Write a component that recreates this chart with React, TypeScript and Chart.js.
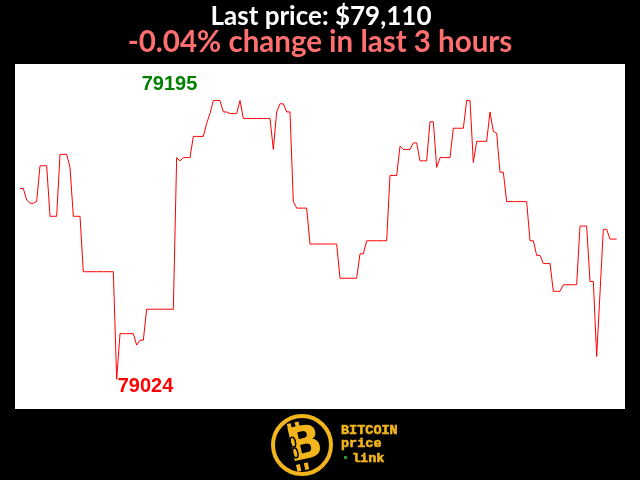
import { useEffect, useRef } from "react";
import { Chart, registerables } from "chart.js";

Chart.register(...registerables);

// One price per minute over the last 3 hours (USD)
const prices: number[] = [
  79141, 79141, 79134, 79132, 79132, 79133, 79155, 79155, 79155, 79124,
  79124, 79124, 79162, 79162, 79162, 79154, 79124, 79124, 79124, 79090,
  79090, 79090, 79090, 79090, 79090, 79090, 79090, 79090, 79090, 79024,
  79052, 79052, 79052, 79052, 79052, 79045, 79048, 79048, 79067, 79067,
  79067, 79067, 79067, 79067, 79067, 79067, 79067, 79160, 79158, 79160,
  79160, 79160, 79173, 79173, 79173, 79173, 79181, 79187, 79195, 79195,
  79195, 79188, 79188, 79187, 79187, 79187, 79195, 79184, 79184, 79184,
  79184, 79184, 79184, 79184, 79184, 79184, 79165, 79188, 79193, 79193,
  79188, 79188, 79133, 79129, 79129, 79129, 79129, 79107, 79107, 79107,
  79107, 79107, 79107, 79107, 79107, 79107, 79086, 79086, 79086, 79086,
  79086, 79086, 79101, 79101, 79109, 79109, 79109, 79109, 79109, 79109,
  79109, 79149, 79149, 79149, 79167, 79165, 79165, 79165, 79169, 79169,
  79158, 79158, 79158, 79182, 79182, 79154, 79160, 79160, 79160, 79160,
  79178, 79178, 79178, 79178, 79195, 79195, 79157, 79170, 79170, 79170,
  79170, 79188, 79176, 79175, 79151, 79151, 79133, 79133, 79133, 79133,
  79133, 79133, 79133, 79109, 79109, 79100, 79100, 79095, 79095, 79095,
  79078, 79078, 79078, 79082, 79082, 79082, 79082, 79082, 79118, 79118,
  79118, 79084, 79084, 79038, 79077, 79116, 79116, 79110, 79110, 79110,
];

const titleText = "Last price: $79,110";
const subtitleText = "-0.04% change in last 3 hours";
const logoLines = ["BITCOIN", "price", "link"];

const GOLD = "#f2b51c";

export default function App() {
  const ref = useRef<HTMLCanvasElement>(null);

  useEffect(() => {
    document.body.style.margin = "0";
    document.body.style.background = "#000";
    const canvas = ref.current;
    if (!canvas) return;

    const points = prices.map((v, i) => ({ x: i, y: v }));
    const maxV = Math.max(...prices);
    const minV = Math.min(...prices);
    const maxI = prices.indexOf(maxV);
    const minI = prices.indexOf(minV);

    const deco = {
      id: "deco",
      beforeDraw(chart: any) {
        const { ctx, chartArea: a } = chart;
        ctx.save();
        ctx.fillStyle = "#000";
        ctx.fillRect(0, 0, chart.width, chart.height);
        ctx.fillStyle = "#fff";
        ctx.fillRect(a.left, a.top, a.right - a.left, a.bottom - a.top);
        ctx.restore();
      },
      afterDraw(chart: any) {
        const { ctx } = chart;
        const xs = chart.scales.x;
        const ys = chart.scales.y;
        ctx.save();
        // titles
        ctx.textAlign = "center";
        ctx.textBaseline = "alphabetic";
        ctx.fillStyle = "#ffffff";
        ctx.font = "bold 26px Lato";
        ctx.fillText(titleText, 321, 25);
        ctx.fillStyle = "#ff6f6f";
        ctx.font = "bold 29.5px Lato";
        ctx.fillText(subtitleText, 320, 52);

        // max / min labels
        ctx.font = "bold 20px 'Liberation Sans'";
        ctx.fillStyle = "#008000";
        ctx.textAlign = "right";
        ctx.fillText(String(maxV), xs.getPixelForValue(maxI) - 16, ys.getPixelForValue(maxV) - 11);
        ctx.fillStyle = "#ff0000";
        ctx.textAlign = "left";
        ctx.fillText(String(minV), xs.getPixelForValue(minI) + 1, ys.getPixelForValue(minV) + 12.5);

        // logo
        const cx = 302, cy = 445, r = 29;
        ctx.strokeStyle = GOLD;
        ctx.lineWidth = 4;
        ctx.beginPath();
        ctx.arc(cx, cy, r, 0, Math.PI * 2);
        ctx.stroke();

        ctx.save();
        ctx.translate(cx + 1, cy + 1);
        ctx.rotate(-0.22);
        ctx.fillStyle = GOLD;
        ctx.font = "bold 46px 'DejaVu Sans'";
        ctx.textAlign = "center";
        ctx.textBaseline = "middle";
        ctx.fillText("B", 2, 1);
        // bitcoin ticks
        ctx.fillRect(-11, -25, 4, 8);
        ctx.fillRect(-3, -25, 4, 8);
        ctx.fillRect(-11, 17, 4, 7);
        ctx.fillRect(-3, 17, 4, 7);
        // chain on stem
        ctx.strokeStyle = "#000";
        ctx.lineWidth = 1.5;
        ctx.beginPath();
        ctx.ellipse(-9, -6, 2.5, 5, 0, 0, Math.PI * 2);
        ctx.stroke();
        ctx.beginPath();
        ctx.ellipse(-9, 5, 2.5, 5, 0, 0, Math.PI * 2);
        ctx.stroke();
        ctx.restore();

        ctx.fillStyle = GOLD;
        ctx.strokeStyle = GOLD;
        ctx.lineWidth = 0.6;
        ctx.font = "bold 13.5px 'Liberation Mono'";
        ctx.textAlign = "left";
        ctx.textBaseline = "alphabetic";
        const rows: [string, number, number][] = [
          [logoLines[0], 341, 434],
          [logoLines[1], 341, 447],
          [logoLines[2], 352, 462],
        ];
        rows.forEach(([t, x, y]) => {
          ctx.fillText(t, x, y);
          ctx.strokeText(t, x, y);
        });
        ctx.fillStyle = "#1f9b2c";
        ctx.fillRect(344, 456, 3, 3);
        ctx.restore();
      },
    };

    const chart = new Chart(canvas, {
      type: "line",
      data: {
        datasets: [
          {
            data: points,
            borderColor: "#ff0000",
            borderWidth: 1,
            pointRadius: 0,
            tension: 0,
            fill: false,
          },
        ],
      },
      options: {
        animation: false,
        responsive: false,
        devicePixelRatio: 1,
        layout: { padding: { left: 15, top: 64, right: 15, bottom: 71 } },
        scales: {
          x: { type: "linear", min: -1.5, max: 181.5, display: false },
          y: { min: 79005.8, max: 79217.4, display: false },
        },
        plugins: {
          legend: { display: false },
          tooltip: { enabled: false },
          title: { display: false },
        },
      },
      plugins: [deco],
    } as any);

    return () => chart.destroy();
  }, []);

  return <canvas ref={ref} width={640} height={480} style={{ display: "block" }} />;
}
